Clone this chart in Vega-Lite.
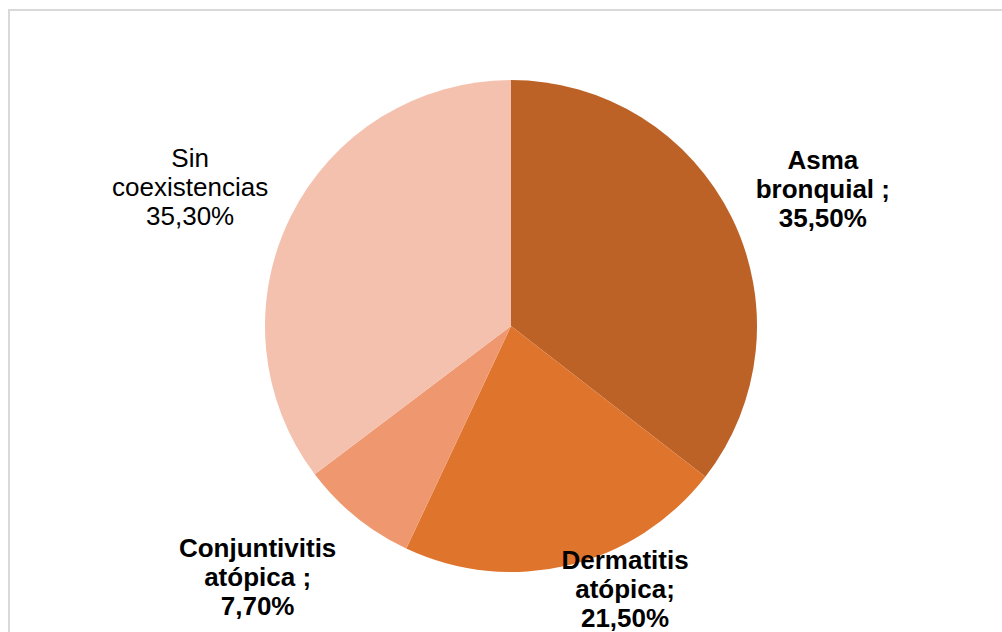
{
  "$schema": "https://vega.github.io/schema/vega-lite/v6.json",
  "width": 1004,
  "height": 632,
  "padding": {"left": 9, "top": 10, "right": 0, "bottom": 0},
  "background": "white",
  "view": {"stroke": "#d9d9d9", "strokeWidth": 2},
  "config": {
    "view": {"stroke": "#d9d9d9", "strokeWidth": 2},
    "style": {"cell": {"stroke": "#d9d9d9", "strokeWidth": 2}},
    "text": {"font": "Liberation Sans", "fontSize": 26, "lineHeight": 29, "color": "#000000"}
  },
  "data": {
    "values": [
      {"categoria": "Asma bronquial", "orden": 1, "porcentaje": 35.5, "etiqueta": ["Asma", "bronquial ;", "35,50%"]},
      {"categoria": "Dermatitis atópica", "orden": 2, "porcentaje": 21.5, "etiqueta": ["Dermatitis", "atópica;", "21,50%"]},
      {"categoria": "Conjuntivitis atópica", "orden": 3, "porcentaje": 7.7, "etiqueta": ["Conjuntivitis", "atópica ;", "7,70%"]},
      {"categoria": "Sin coexistencias", "orden": 4, "porcentaje": 35.3, "etiqueta": ["Sin", "coexistencias", "35,30%"]}
    ]
  },
  "encoding": {
    "theta": {"field": "porcentaje", "type": "quantitative", "stack": true},
    "order": {"field": "orden", "type": "quantitative", "sort": "ascending"}
  },
  "layer": [
    {
      "mark": {"type": "arc", "outerRadius": 246, "stroke": null},
      "encoding": {
        "color": {
          "field": "categoria",
          "type": "nominal",
          "scale": {
            "domain": ["Asma bronquial", "Dermatitis atópica", "Conjuntivitis atópica", "Sin coexistencias"],
            "range": ["#BC6227", "#DF742D", "#EF9870", "#F4C1AF"]
          },
          "legend": null
        }
      }
    },
    {
      "mark": {"type": "text", "radius": 345, "dx": 2, "dy": -13, "fontWeight": "bold", "align": "center", "baseline": "middle"},
      "encoding": {
        "text": {"condition": {"test": "datum.categoria === 'Asma bronquial'", "field": "etiqueta"}, "value": ""}
      }
    },
    {
      "mark": {"type": "text", "radius": 270, "dx": 51, "dy": -28, "fontWeight": "bold", "align": "center", "baseline": "middle"},
      "encoding": {
        "text": {"condition": {"test": "datum.categoria === 'Dermatitis atópica'", "field": "etiqueta"}, "value": ""}
      }
    },
    {
      "mark": {"type": "text", "radius": 345, "dx": -36, "dy": -45, "fontWeight": "bold", "align": "center", "baseline": "middle"},
      "encoding": {
        "text": {"condition": {"test": "datum.categoria === 'Conjuntivitis atópica'", "field": "etiqueta"}, "value": ""}
      }
    },
    {
      "mark": {"type": "text", "radius": 345, "dx": -12, "dy": -13, "fontWeight": "normal", "align": "center", "baseline": "middle"},
      "encoding": {
        "text": {"condition": {"test": "datum.categoria === 'Sin coexistencias'", "field": "etiqueta"}, "value": ""}
      }
    }
  ]
}
